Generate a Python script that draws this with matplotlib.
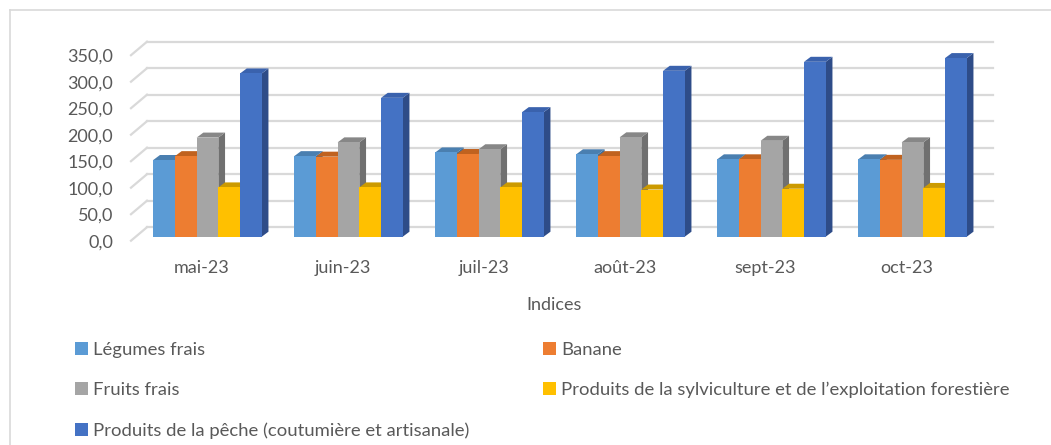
import numpy as np
import matplotlib
matplotlib.use("Agg")
import matplotlib.pyplot as plt
from matplotlib.patches import Polygon, Patch
from matplotlib.lines import Line2D
from matplotlib.ticker import FuncFormatter

months = ["mai-23", "juin-23", "juil-23", "août-23", "sept-23", "oct-23"]
series_names = [
    "Légumes frais",
    "Banane",
    "Fruits frais",
    "Produits de la sylviculture et de l\u2019exploitation forestière",
    "Produits de la pêche (coutumière et artisanale)",
]
legumes = [144.7, 152.0, 159.0, 155.5, 146.0, 146.0]
banane = [152.0, 151.0, 156.0, 152.0, 146.0, 145.0]
fruits = [187.0, 178.0, 165.0, 187.5, 181.0, 178.0]
sylvi = [93.0, 93.0, 93.0, 89.0, 90.5, 92.0]
peche = [308.0, 262.0, 235.0, 313.0, 330.0, 337.0]
yticks = [0, 50, 100, 150, 200, 250, 300, 350]

front = ["#5B9BD5", "#ED7D31", "#A5A5A5", "#FFC000", "#4472C4"]
top_c = ["#4A7FB0", "#C0621F", "#878787", "#CC9A00", "#3A62AD"]
side_c = ["#3E6D99", "#A9561B", "#707070", "#B38700", "#2E4C88"]

W, H = 1051, 445
fig = plt.figure(figsize=(W / 100, H / 100), dpi=100)
plt.rcParams["font.family"] = ["Lato", "DejaVu Sans"]

# axes placed in pixel terms: front plane 0 at y=240.7, 0.53 px per unit
px_x = 141.0          # px per category
px_y = 0.53           # px per value unit
left, right = 131, 131 + 6.12 * px_x
bottom, top = 240.7, 240.7 - 380 * px_y
ax = fig.add_axes([left / W, 1 - bottom / H, (right - left) / W, (bottom - top) / H])
ax.set_xlim(-0.5, 5.62)
ax.set_ylim(0, 380)
for s in ax.spines.values():
    s.set_visible(False)

grid_c = "#D9D9D9"
back_dx, back_dy = 16 / px_x, 13.5 / px_y
for v in yticks:
    ax.plot([-0.5 + back_dx, 5.5 + back_dx], [v + back_dy, v + back_dy],
            color=grid_c, lw=1.6, zorder=1, clip_on=False)
    ax.plot([-0.5, -0.5 + back_dx], [v, v + back_dy],
            color=grid_c, lw=1.6, zorder=1, clip_on=False)

# bars with fake 3D depth
w = 21.7 / px_x
dx_b, dy_b = 6 / px_x, 4 / px_y
ddx, ddy = 6.7 / px_x, 5 / px_y
data = [legumes, banane, fruits, sylvi, peche]
x = np.arange(len(months))
z = 2
for i in range(len(months)):
    for k, vals in enumerate(data):
        x0 = x[i] + dx_b + (k - 2.5) * w
        x1 = x0 + w
        y0 = dy_b
        y1 = dy_b + vals[i]
        ax.add_patch(Polygon([(x1, y0), (x1, y1), (x1 + ddx, y1 + ddy), (x1 + ddx, y0 + ddy)],
                             closed=True, fc=side_c[k], ec="none", zorder=z, clip_on=False))
        ax.add_patch(Polygon([(x0, y1), (x1, y1), (x1 + ddx, y1 + ddy), (x0 + ddx, y1 + ddy)],
                             closed=True, fc=top_c[k], ec="none", zorder=z, clip_on=False))
        ax.bar(x0, vals[i], bottom=y0, width=w, align="edge", color=front[k],
               zorder=z + 0.5, clip_on=False)
        z += 1

txt_c = "#595959"
ax.set_yticks(yticks)
ax.yaxis.set_major_formatter(FuncFormatter(lambda v, p: f"{v:.1f}".replace(".", ",")))
ax.set_xticks(x)
ax.set_xticklabels(months)
ax.tick_params(axis="y", length=0, pad=13, labelsize=13, labelcolor=txt_c)
ax.tick_params(axis="x", length=0, pad=14, labelsize=13, labelcolor=txt_c)

fig.text(554 / W, 1 - 305 / H, "Indices", ha="center", va="center",
         fontsize=13, color=txt_c)

# legend in two columns
leg_font = {"family": ["Lato", "DejaVu Sans"], "size": 13.3}
h = [Patch(fc=c, ec="none") for c in front]
kw = dict(frameon=False, prop=leg_font, labelcolor=txt_c, handlelength=0.7,
          handleheight=0.7, handletextpad=0.3, labelspacing=1.3, borderpad=0,
          borderaxespad=0, loc="upper left")
fig.legend([h[0], h[2], h[4]], [series_names[0], series_names[2], series_names[4]],
           bbox_to_anchor=(75 / W, 1 - 342 / H), **kw)
fig.legend([h[1], h[3]], [series_names[1], series_names[3]],
           bbox_to_anchor=(543 / W, 1 - 342 / H), **kw)

# outer frame (left and top edges visible)
fig.add_artist(Line2D([10 / W, 10 / W], [0, 1 - 10 / H], color=grid_c, lw=1.2,
                      transform=fig.transFigure))
fig.add_artist(Line2D([10 / W, 1], [1 - 10 / H, 1 - 10 / H], color=grid_c, lw=1.2,
                      transform=fig.transFigure))

fig.savefig("out.png", dpi=100, facecolor="white")
